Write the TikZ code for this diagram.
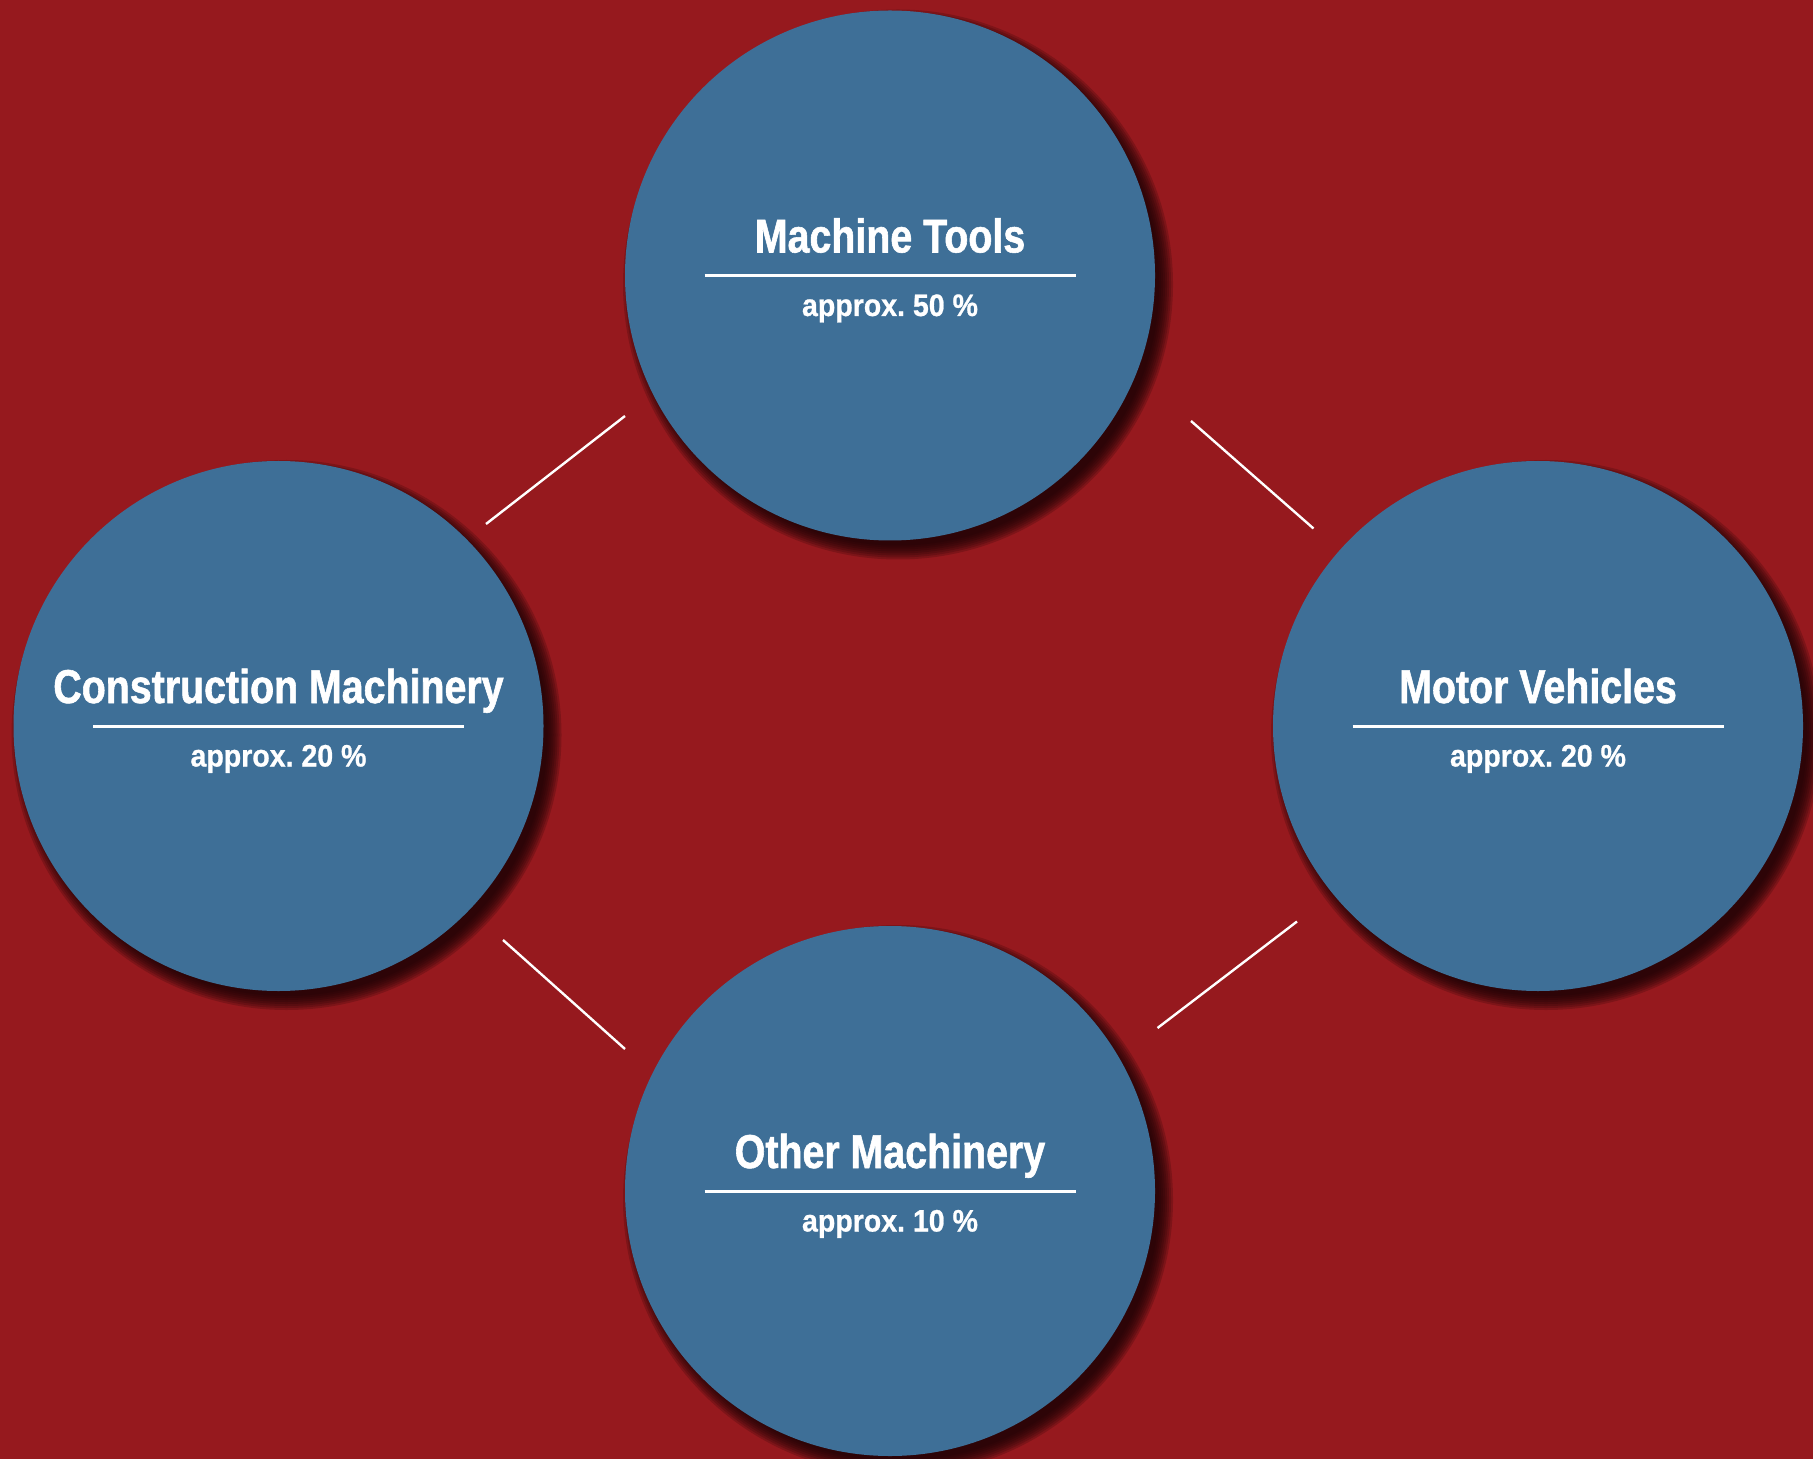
\documentclass[tikz,border=0pt]{standalone}
\usepackage{fontspec}
\newfontfamily\titrefont[FakeStretch=0.83,FakeBold=1.2]{Liberation Sans}
\newfontfamily\partfont[FakeStretch=0.92,FakeBold=0.8]{Liberation Sans}
\definecolor{fond}{RGB}{150,25,30}
\definecolor{bleu}{RGB}{62,111,151}
\definecolor{ombre}{RGB}{25,2,4}
\begin{document}
\begin{tikzpicture}[x=0.5pt,y=-0.5pt,
    secteur/.style={circle, fill=bleu, inner sep=0pt, minimum size=265pt},
    titre/.style={text=white, anchor=base, inner sep=0pt, font=\titrefont\bfseries\fontsize{23.7pt}{26pt}\selectfont},
    part/.style={text=white, anchor=base, inner sep=0pt, font=\partfont\bfseries\fontsize{15.5pt}{18pt}\selectfont},
    regle/.style={white, line width=1.5pt},
    lien/.style={white, line width=1.2pt}]
    % fond
    \fill[fond] (0,0) rectangle (1813,1459);
    \useasboundingbox (0,0) rectangle (1813,1459);
    % disques
    \foreach \nom/\cx/\cy/\titre/\pct in {mt/890/275.5/Machine Tools/50, cm/278.5/726/Construction Machinery/20, mv/1538/726/Motor Vehicles/20, om/890/1191/Other Machinery/10}{
        \foreach \k in {0,...,7}
            \fill[ombre, opacity=0.2] (\cx+8,\cy+9) circle ({275-2*\k});
        \node[secteur] (\nom) at (\cx,\cy) {};
        \node[titre] (\nom-t) at ([yshift=11.5pt]\nom.center) {\titre};
        \draw[regle] ([xshift=-92.75pt]\nom.center) -- ([xshift=92.75pt]\nom.center);
        \node[part] (\nom-p) at ([yshift=-20.25pt]\nom.center) {approx.\ \pct~\%};
    }
    % traits
    \coordinate (a1) at (486,524);   \coordinate (a2) at (625,416);
    \coordinate (b1) at (1191,421);  \coordinate (b2) at (1313.5,528.5);
    \coordinate (c1) at (503,940);   \coordinate (c2) at (625,1049);
    \coordinate (d1) at (1157.5,1028); \coordinate (d2) at (1297,921.5);
    \draw[lien] (a1) -- (a2);
    \draw[lien] (b1) -- (b2);
    \draw[lien] (c1) -- (c2);
    \draw[lien] (d1) -- (d2);
\end{tikzpicture}
\end{document}
